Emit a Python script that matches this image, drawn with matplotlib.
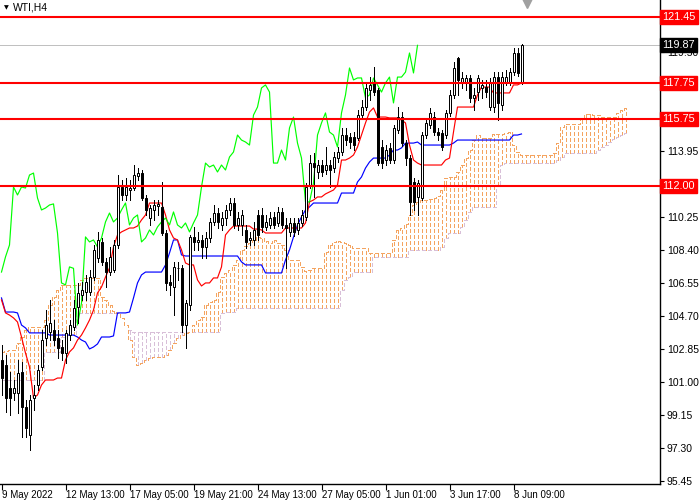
import numpy as np
import matplotlib
matplotlib.use("Agg")
import matplotlib.pyplot as plt
from matplotlib.collections import LineCollection

plt.rcParams["font.family"] = ["Liberation Sans", "DejaVu Sans"]

# ---------------- data (WTI, H4) ----------------
opens = [102.23,101.95,100.66,100.38,100.38,101.56,99.60,98.03,100.10,100.83,
         101.84,103.47,103.80,103.91,103.47,102.96,102.62,103.63,104.08,105.20,
         105.88,106.04,106.04,106.88,107.95,108.85,107.73,107.16,107.28,108.68,
         111.93,111.48,111.76,111.87,112.55,112.71,111.31,110.19,110.64,110.86,
         110.81,109.35,106.60,106.32,107.39,107.39,104.19,105.32,109.13,108.85,
         108.96,108.57,109.07,109.97,110.47,109.80,110.19,110.64,111.03,109.80,
         109.80,109.52,108.96,108.96,110.36,110.36,109.69,109.80,110.25,109.91,
         110.53,109.80,109.41,109.91,109.52,109.91,110.25,112.04,113.27,112.77,
         113.16,112.88,113.16,112.99,113.55,113.89,114.84,114.73,114.73,114.68,
         115.96,116.41,117.37,117.76,117.37,114.17,113.44,114.12,113.44,115.12,
         115.85,114.39,113.55,112.21,111.37,111.31,114.84,115.40,115.85,115.01,
         114.96,114.84,116.08,117.09,119.16,117.76,117.81,118.04,116.92,117.25,
         117.48,117.53,116.41,116.41,118.09,116.52,117.81,117.81,118.37,119.44,
         117.81]
highs = [103.07,102.51,101.56,101.11,102.23,102.12,99.99,100.27,100.83,101.95,
         103.91,105.03,105.60,104.47,103.91,103.35,103.91,104.47,105.60,106.55,
         106.60,107.00,107.28,108.68,109.41,109.07,107.95,108.57,108.96,112.60,
         112.32,112.43,112.32,113.16,112.99,112.88,111.48,110.92,111.20,111.20,
         112.21,109.52,107.00,107.73,107.73,107.56,105.60,109.24,109.69,109.41,
         109.24,109.41,110.19,110.92,110.75,110.53,110.92,111.31,111.31,110.53,
         110.64,109.80,109.41,109.97,110.64,110.75,110.36,110.53,110.53,110.81,
         110.75,110.19,110.19,110.19,110.19,110.64,112.15,113.72,113.83,113.44,
         113.44,114.17,113.44,113.89,114.17,115.24,115.24,114.96,115.01,116.24,
         116.81,117.76,118.09,118.65,117.48,114.56,114.28,114.39,115.40,116.41,
         116.13,114.56,113.72,112.43,112.32,115.01,115.80,116.36,116.13,115.24,
         115.12,116.24,117.37,118.94,119.22,118.37,118.21,118.21,117.48,118.21,
         117.93,117.93,118.04,118.37,118.37,118.37,118.49,118.60,119.72,119.72,
         119.94]
lows = [100.27,99.32,99.15,99.99,99.26,97.92,97.92,97.19,99.43,100.55,
        101.67,103.07,103.35,103.07,102.34,102.23,102.06,103.35,103.91,104.31,
        105.60,105.60,105.88,106.72,107.73,107.56,106.32,107.00,107.16,108.51,
        111.20,111.20,111.20,111.76,112.32,111.20,110.36,109.80,110.08,110.36,
        109.24,106.16,105.88,104.75,106.72,103.80,102.91,105.03,108.40,108.40,
        107.95,107.95,108.85,109.80,109.63,109.52,109.80,110.36,109.63,109.52,
        109.24,108.51,108.68,108.68,108.96,109.41,109.52,109.63,109.63,109.74,
        109.63,107.39,109.18,109.18,109.29,109.74,110.08,111.87,111.37,112.43,
        112.55,112.66,111.93,112.77,113.33,113.72,114.28,114.12,114.00,114.56,
        115.80,116.24,116.81,117.09,113.16,112.99,113.16,113.27,113.27,114.96,
        114.23,113.16,110.36,110.64,110.36,111.20,114.68,115.24,114.84,114.56,
        114.00,114.68,115.91,116.92,117.09,117.48,117.37,116.69,116.24,116.81,
        116.92,116.97,116.24,116.13,115.68,116.24,117.65,117.65,118.21,118.15,
        117.70]
closes = [101.22,100.10,100.10,100.66,101.50,99.60,98.42,99.99,100.27,101.67,
          103.35,104.19,104.31,103.35,102.91,102.62,103.75,104.19,105.15,105.99,
          106.16,106.60,106.88,108.40,108.96,107.73,107.16,108.01,108.68,111.93,
          111.48,111.93,111.87,112.60,112.71,111.31,110.64,110.75,110.92,110.98,
          109.35,106.55,106.44,107.45,107.37,104.19,105.43,109.13,108.85,108.96,
          108.57,109.07,109.97,110.47,109.97,110.19,110.64,111.03,109.80,110.19,
          110.36,108.85,109.07,109.52,109.24,109.69,109.97,110.19,109.80,110.53,
          109.80,109.63,109.91,109.41,109.91,110.36,111.93,113.27,113.05,113.16,
          112.77,113.16,112.88,113.61,113.89,114.84,114.56,114.45,114.28,115.96,
          116.41,117.48,117.65,117.25,113.27,113.27,114.00,113.44,115.24,115.85,
          114.39,113.55,111.09,111.09,112.15,114.84,115.52,116.08,115.01,114.84,
          114.17,116.08,117.09,118.60,117.93,118.04,118.04,116.92,117.09,118.04,
          117.65,117.25,117.76,118.09,116.64,118.09,118.09,118.37,119.44,118.32,
          119.87]

tenkan = [105.60,104.87,104.75,104.59,104.36,103.52,102.62,101.84,100.10,100.27,
          100.83,101.11,101.11,101.11,101.22,101.22,102.23,102.68,102.91,103.35,
          103.63,104.03,104.47,105.03,105.99,106.32,106.88,107.39,108.57,109.24,
          109.41,109.52,109.63,109.63,109.74,110.08,110.36,111.03,111.03,111.03,
          111.03,110.36,109.52,109.07,108.96,108.40,107.67,107.56,107.56,106.72,
          106.38,106.55,106.55,106.83,106.83,107.45,109.24,109.52,109.74,109.74,
          109.74,109.74,109.74,109.57,109.57,109.52,109.35,109.35,109.35,109.35,
          109.35,109.63,109.63,109.63,109.63,109.63,109.91,111.09,111.20,111.37,
          111.37,111.54,111.65,111.76,112.04,113.44,113.44,113.55,113.72,114.17,
          114.84,115.52,116.13,116.36,115.85,115.85,115.85,115.80,115.80,115.80,
          115.68,115.52,114.28,113.44,113.27,113.16,113.16,113.16,113.16,113.16,
          113.16,113.44,113.55,115.01,116.41,116.41,116.41,116.41,116.41,117.09,
          117.53,117.53,117.53,117.20,117.20,117.20,117.20,117.20,117.65,117.65,
          117.76]
kijun = [105.71,104.92,104.92,104.92,104.87,104.19,104.03,103.75,103.75,103.75,
         103.75,103.75,103.63,103.63,103.63,103.63,103.63,103.63,103.63,103.52,
         103.35,103.24,102.85,102.96,103.13,103.52,103.52,103.52,103.58,104.87,
         104.87,104.87,104.92,105.71,106.55,107.00,107.16,107.16,107.16,107.16,
         107.16,107.56,108.23,108.96,108.96,108.12,108.06,108.06,108.06,108.06,
         108.06,108.06,108.06,108.06,108.06,108.06,108.06,108.06,108.06,108.06,
         107.73,107.56,107.56,107.56,107.56,107.56,107.11,107.11,107.11,107.11,
         107.11,107.84,108.40,109.13,109.80,110.25,110.64,110.81,111.03,111.03,
         111.03,111.03,111.03,111.03,111.03,111.59,111.59,111.59,111.59,112.21,
         112.49,112.99,113.33,113.55,113.55,113.55,113.55,113.72,114.00,114.00,
         114.12,114.39,114.39,114.39,114.45,114.28,114.28,114.28,114.28,114.28,
         114.28,114.28,114.28,114.39,114.56,114.56,114.56,114.56,114.56,114.56,
         114.56,114.56,114.56,114.56,114.56,114.56,114.56,114.56,114.84,114.84,
         114.90]
senkou_a = [102.68,102.74,102.79,102.79,103.19,103.52,103.91,104.08,104.08,104.08,
            104.08,104.47,105.32,105.76,106.16,106.44,106.44,106.44,106.44,106.44,
            106.72,106.83,106.83,106.83,106.83,105.76,105.60,105.32,104.98,104.87,
            104.59,104.19,103.35,102.40,101.95,102.06,102.23,102.34,102.40,102.40,
            102.40,102.51,102.79,103.19,103.47,103.63,103.75,103.80,104.19,104.47,
            104.64,105.32,105.48,105.60,106.04,106.88,107.11,107.28,107.56,107.84,
            108.40,108.62,108.79,108.96,109.13,109.07,108.90,108.79,108.96,108.79,
            108.68,108.40,107.84,107.84,107.84,107.45,107.22,107.28,107.39,107.39,
            107.39,108.29,108.68,108.85,108.90,108.85,108.79,108.68,108.51,108.51,
            108.51,108.51,108.23,108.23,108.23,108.23,108.23,108.23,108.96,109.52,
            109.63,109.85,110.36,110.92,111.09,111.20,111.20,111.26,111.31,111.42,
            111.76,112.43,112.49,112.49,112.77,113.16,113.55,114.00,114.56,114.84,
            114.68,114.68,114.68,114.90,114.90,114.90,114.96,115.01,114.28,113.89,
            113.72,113.72,113.72,113.72,113.72,113.72,113.72,113.72,113.83,114.39,
            115.29,115.46,115.46,115.46,115.46,115.80,116.02,116.02,115.96,115.96,
            115.85,115.85,115.85,115.85,116.08,116.24,116.36]
senkou_b = [101.11,101.11,101.11,101.11,101.11,101.11,101.11,101.11,101.11,101.11,
            101.11,102.68,102.68,102.68,102.68,103.52,103.63,103.63,103.63,104.87,
            104.87,104.87,104.87,104.87,104.87,104.87,104.87,104.87,104.87,104.87,
            104.59,104.19,103.91,103.80,103.80,103.80,103.80,103.80,103.80,103.80,
            103.80,103.80,103.80,103.80,103.80,103.80,103.80,103.80,103.80,103.80,
            103.80,103.80,103.80,103.80,103.80,104.87,104.92,104.92,104.92,105.15,
            105.15,105.15,105.15,105.15,105.15,105.15,105.15,105.15,105.15,105.15,
            105.15,105.15,105.15,105.15,105.15,105.15,105.15,105.15,105.15,105.15,
            105.15,105.15,105.15,105.15,105.15,106.16,106.72,106.88,107.16,107.16,
            107.16,107.16,107.16,108.01,108.01,108.01,108.01,108.01,108.01,108.01,
            108.01,108.01,108.40,108.40,108.40,108.40,108.40,108.40,108.40,108.40,
            108.57,109.07,109.35,109.35,109.35,109.69,110.08,110.53,110.81,110.81,
            110.81,110.81,110.81,110.81,112.04,113.16,113.27,113.27,113.27,113.27,
            113.27,113.27,113.27,113.27,113.27,113.27,113.27,113.27,113.27,113.44,
            113.61,113.83,113.83,113.83,113.83,113.83,113.83,113.83,113.83,114.00,
            114.17,114.28,114.45,114.62,114.73,114.84,114.96]

level_lines = [121.45, 117.75, 115.75, 112.00]
last_price = 119.87
y_ticks = [95.45, 97.30, 99.15, 101.00, 102.85, 104.70, 106.55, 108.40, 110.25,
           112.10, 113.95, 115.80, 117.65, 119.50, 121.35]
x_tick_bars = [0, 16, 32, 48, 64, 80, 96, 112, 128]
x_tick_labels = ["9 May 2022", "12 May 13:00", "17 May 05:00", "19 May 21:00",
                 "24 May 13:00", "27 May 05:00", "1 Jun 01:00", "3 Jun 17:00",
                 "8 Jun 09:00"]
shift = 26

# ---------------- figure ----------------
fig = plt.figure(figsize=(7, 5), dpi=100)
ax = fig.add_axes([0, 16/500, 660/700, 484/500])
ax.set_facecolor("white")

n = len(closes)
xb = np.arange(n)
xc = np.arange(len(senkou_a))
sa = np.array(senkou_a)
sb = np.array(senkou_b)

ORANGE = "#F4A460"
THISTLE = "#D8BFD8"
PX = 0.72  # one pixel in points at 100 dpi

# cloud: vertical dotted hatching
lo = np.minimum(sa, sb)
hi = np.maximum(sa, sb)
segs = [[(x, a), (x, b)] for x, a, b in zip(xc, lo, hi)]
cols = [ORANGE if a >= b else THISTLE for a, b in zip(sa, sb)]
hatch = LineCollection(segs, colors=cols, linewidths=PX,
                       linestyles=[(0, (4, 2.6))], antialiaseds=False, zorder=1)
ax.add_collection(hatch)
ax.plot(xc, sa, drawstyle="steps-mid", color=ORANGE, lw=PX,
        linestyle=(0, (4, 2.6)), zorder=1.2, antialiased=False)
ax.plot(xc, sb, drawstyle="steps-mid", color=THISTLE, lw=PX,
        linestyle=(0, (4, 2.6)), zorder=1.1, antialiased=False)

# bid line
ax.axhline(last_price, color="#C0C0C0", lw=PX, zorder=1.5)

# ichimoku lines
ax.plot(xb, kijun, color="#0000FF", lw=0.85, zorder=2)
ax.plot(xb, tenkan, color="#FF0000", lw=0.85, zorder=2)
ax.plot(xb[:n - shift], closes[shift:], color="#00FF00", lw=0.85, zorder=2)

# candles
o = np.array(opens); c = np.array(closes)
h = np.array(highs); l = np.array(lows)
ax.vlines(xb, l, h, colors="black", lw=PX, zorder=3, antialiased=False)
up = c >= o
body_h = np.abs(c - o)
body_h = np.where(body_h < 0.03, 0.03, body_h)
ax.bar(xb[up], body_h[up], bottom=np.minimum(o, c)[up], width=0.5,
       color="white", edgecolor="black", linewidth=PX, zorder=4)
ax.bar(xb[~up], body_h[~up], bottom=np.minimum(o, c)[~up], width=0.5,
       color="black", edgecolor="black", linewidth=PX, zorder=4)

# horizontal levels
for lv in level_lines:
    ax.axhline(lv, color="#FF0000", lw=1.5, zorder=5)

# axes limits and styling (bar i centred on pixel column 4*i+1)
ax.set_xlim(-0.375, 164.625)
ax.set_ylim(95.28, 122.41)
for s in ["left", "top"]:
    ax.spines[s].set_visible(False)
ax.spines["right"].set_linewidth(1.0)
ax.spines["bottom"].set_linewidth(1.0)

ax.yaxis.tick_right()
ax.set_yticks(y_ticks)
ax.set_yticklabels([f"{v:.2f}" for v in y_ticks])
ax.tick_params(axis="y", direction="out", length=3, width=0.8, pad=2,
               labelsize=7.5, colors="black")
ax.set_xticks(x_tick_bars)
ax.set_xticklabels(x_tick_labels, ha="left")
ax.tick_params(axis="x", direction="out", length=4, width=0.8, pad=0.5,
               labelsize=7.0, colors="black")

# price boxes on the right scale
for lv in level_lines:
    ax.text(1.004, lv, f"{lv:.2f}", transform=ax.get_yaxis_transform(),
            ha="left", va="center", fontsize=7.8, color="white", zorder=10,
            clip_on=False,
            bbox=dict(boxstyle="square,pad=0.2", fc="#FF0000", ec="#FF0000"))
ax.text(1.004, last_price, f"{last_price:.2f}", transform=ax.get_yaxis_transform(),
        ha="left", va="center", fontsize=7.8, color="white", zorder=10,
        clip_on=False,
        bbox=dict(boxstyle="square,pad=0.2", fc="black", ec="black"))

# title and chart-shift marker
fig.text(4/700, 1 - 8/500, "\u25BC", fontsize=4.5, ha="left", va="center",
         color="black", family="DejaVu Sans")
fig.text(13/700, 1 - 7/500, "WTI,H4", fontsize=7.5, ha="left", va="center", color="black")
ax.plot([527/660], [1 - 3/484], marker="v", markersize=7, color="#A0A0A0",
        transform=ax.transAxes, clip_on=False, zorder=10)

fig.savefig("out.png", dpi=100, facecolor="white")
